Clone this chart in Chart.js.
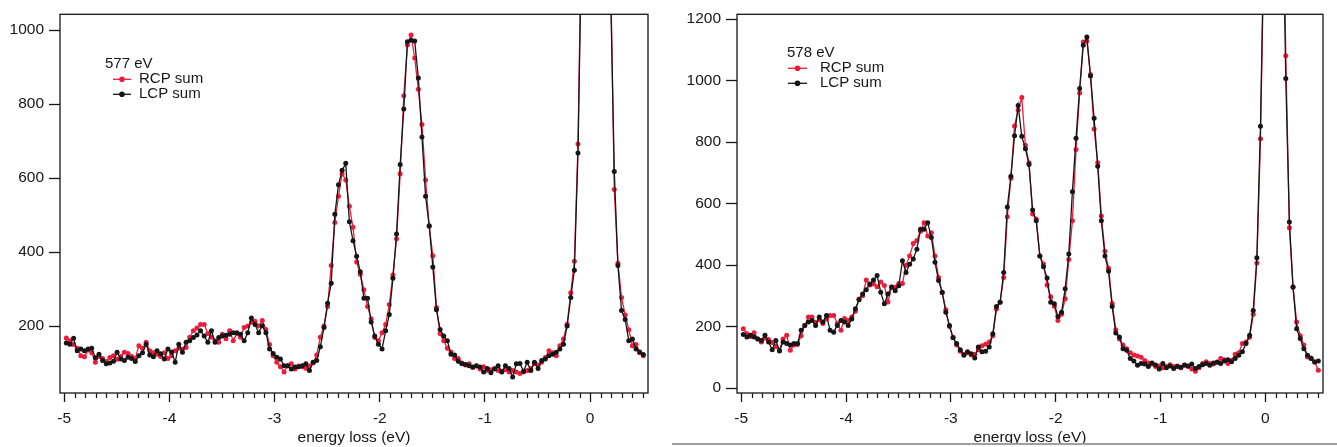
<!DOCTYPE html>
<html>
<head>
<meta charset="utf-8">
<script src="https://cdn.jsdelivr.net/npm/chart.js@4.4.1/dist/chart.umd.min.js"></script>
<style>
  body { margin: 0; background: #fff; width: 1337px; height: 447px; overflow: hidden; position: relative; }
  #left { position: absolute; left: 0; top: 0; }
  #right { position: absolute; left: 668px; top: 0; }
  #edge { position: absolute; left: 672px; top: 443px; width: 665px; border-top: 2px solid #a0a0a0; }
</style>
</head>
<body>
<canvas id="left" width="668" height="447"></canvas>
<canvas id="right" width="669" height="447"></canvas>
<div id="edge"></div>
<script>
// energy grid of the scan (eV), same for both panels
const energyStart = -4.98;
const energyStep = 0.0345;
const nPoints = 160;
const energy = [];
for (let i = 0; i < nPoints; i++) energy.push(+(energyStart + i * energyStep).toFixed(4));

const seriesNames = ['RCP sum', 'LCP sum'];
const panelTitles = ['577 eV', '578 eV'];
const xAxisTitle = 'energy loss (eV)';
const xTicks = [-5, -4, -3, -2, -1, 0];
const yTicks577 = [200, 400, 600, 800, 1000];
const yTicks578 = [0, 200, 400, 600, 800, 1000, 1200];

// 577 eV panel
const rcp577 = [
  168,160,150,140,120,117,135,128,102,118,
  112,104,115,120,110,118,129,126,118,112,
  147,140,156,133,128,124,118,128,112,120,
  133,140,138,142,170,187,195,204,204,180,
  170,160,156,178,166,187,160,180,170,196,
  200,210,213,200,215,191,150,120,102,90,
  76,93,98,84,92,90,86,92,100,122,
  170,200,253,364,480,551,612,595,524,467,
  373,340,298,253,220,169,160,182,204,258,
  338,436,612,823,960,987,925,840,745,595,
  470,390,250,180,160,140,130,112,112,100,
  95,98,88,92,84,90,80,82,85,80,
  78,82,76,80,76,72,76,80,85,98,
  95,102,115,133,128,120,147,165,205,290,
  375,692,1300,2700,5300,8100,8900,7100,4300,2200,
  1150,569,370,277,230,190,147,150,128,120
];
const lcp577 = [
  154,151,167,133,138,133,138,140,114,124,
  107,98,100,105,129,111,107,116,112,104,
  120,128,151,122,117,133,125,111,138,130,
  102,151,129,156,160,169,176,187,173,156,
  187,156,169,173,175,178,182,182,178,160,
  182,222,204,182,201,182,138,126,116,111,
  93,93,84,89,90,93,98,80,102,107,
  144,196,262,316,502,582,621,640,482,431,
  389,347,275,275,211,173,151,138,187,231,
  329,449,637,787,969,973,971,871,711,551,
  471,360,244,191,173,160,124,122,105,98,
  96,93,89,93,89,76,85,74,84,93,
  76,93,85,62,98,99,78,102,80,102,
  85,107,111,120,124,129,138,151,200,277,
  351,668,1250,2600,5200,8000,8800,7000,4200,2100,
  1100,618,364,242,218,160,165,138,130,123
];

// 578 eV panel
const rcp578 = [
  193,177,168,180,160,150,162,158,148,135,
  123,160,172,123,140,142,170,204,231,231,
  213,222,210,225,236,236,210,188,226,220,
  231,250,290,300,352,335,339,330,345,334,
  280,330,328,340,340,400,430,470,480,510,
  538,495,505,430,360,310,255,200,165,140,
  120,110,115,108,110,125,138,143,150,170,
  257,279,360,557,683,853,905,945,790,733,
  566,550,430,404,335,297,266,220,240,291,
  418,544,776,960,1126,1129,1020,843,733,560,
  445,390,275,190,160,140,128,115,108,104,
  100,90,82,78,70,72,66,70,76,70,
  72,66,74,70,62,55,66,80,86,80,
  78,85,96,92,80,90,110,115,145,150,
  165,240,407,811,1450,4400,8900,9600,6200,1800,
  1081,522,330,215,170,140,101,98,85,58
];
const lcp578 = [
  174,166,172,166,160,155,172,150,125,155,
  121,150,145,140,145,145,188,204,215,220,
  204,231,215,236,188,182,204,220,215,204,
  225,258,287,306,320,339,352,366,312,274,
  306,328,317,333,414,376,403,420,452,517,
  517,538,490,409,350,312,247,204,164,145,
  125,107,118,112,98,134,118,120,134,177,
  265,279,376,589,689,821,919,819,779,727,
  579,544,430,395,358,279,274,233,247,323,
  436,639,813,975,1115,1142,1015,878,722,544,
  430,380,265,179,166,128,123,96,88,74,
  80,78,70,82,75,62,80,66,72,64,
  70,68,75,72,78,64,70,76,80,74,
  82,84,80,88,92,86,96,107,118,145,
  172,252,424,852,1500,4500,9000,9500,6000,1700,
  1007,540,328,193,161,128,107,96,85,88
];

const RED = '#ec1c3c';
const INK = '#161616';
const FONT = '"Liberation Sans", Arial, sans-serif';

function toPoints(vals) {
  return energy.map((e, i) => ({ x: e, y: vals[i] }));
}

// box frame, minor x ticks and the little legend inside the plot
const frameAndLegend = {
  id: 'frameAndLegend',
  afterDatasetsDraw(chart, args, opts) {
    const { ctx, chartArea: a } = chart;
    const x = chart.scales.x;
    ctx.save();
    ctx.strokeStyle = INK;
    ctx.lineWidth = 1.3;
    ctx.strokeRect(a.left, a.top, a.right - a.left, a.bottom - a.top);

    ctx.lineWidth = 1.2;
    ctx.beginPath();
    for (let k = -50; k <= 5; k++) {
      if (k % 10 === 0) continue;
      const px = Math.round(x.getPixelForValue(k / 10)) + 0.5;
      ctx.moveTo(px, a.bottom);
      ctx.lineTo(px, a.bottom + 5);
    }
    ctx.stroke();

    ctx.font = '15px ' + FONT;
    ctx.textBaseline = 'middle';
    ctx.fillStyle = INK;
    ctx.fillText(opts.title, a.left + opts.dx, a.top + opts.dy);
    chart.data.datasets.forEach((ds, j) => {
      const yy = a.top + opts.dy + (j + 1) * opts.row;
      ctx.strokeStyle = ds.borderColor;
      ctx.lineWidth = 1.3;
      ctx.beginPath();
      ctx.moveTo(a.left + opts.mx0, yy);
      ctx.lineTo(a.left + opts.mx1, yy);
      ctx.stroke();
      ctx.fillStyle = ds.borderColor;
      ctx.beginPath();
      ctx.arc(a.left + (opts.mx0 + opts.mx1) / 2, yy, 2.8, 0, Math.PI * 2);
      ctx.fill();
      ctx.fillStyle = INK;
      ctx.fillText(ds.label, a.left + opts.tx, yy);
    });
    ctx.restore();
  }
};

function makePanel(id, rcp, lcp, cfg) {
  const dataset = (label, vals, color, order) => ({
    label: label,
    data: toPoints(vals),
    borderColor: color,
    backgroundColor: color,
    borderWidth: 1.3,
    pointRadius: 2.5,
    pointBorderWidth: 0,
    pointBackgroundColor: color,
    tension: 0,
    order: order
  });
  return new Chart(document.getElementById(id), {
    type: 'line',
    data: {
      datasets: [dataset(seriesNames[0], rcp, RED, 1), dataset(seriesNames[1], lcp, INK, 0)]
    },
    options: {
      responsive: false,
      animation: false,
      events: [],
      layout: { padding: { left: 0, top: cfg.top, right: cfg.right, bottom: 0 } },
      plugins: {
        legend: { display: false },
        tooltip: { enabled: false },
        frameAndLegend: cfg.legend
      },
      scales: {
        x: {
          type: 'linear',
          min: -5.04,
          max: 0.55,
          border: { display: false },
          grid: { drawOnChartArea: false, drawTicks: true, tickLength: 9, tickColor: INK, tickWidth: 1.3 },
          ticks: { color: INK, font: { family: FONT, size: 15.5 }, padding: 7, maxRotation: 0, autoSkip: false, callback: (v) => String(v) },
          afterBuildTicks: (s) => { s.ticks = xTicks.map((v) => ({ value: v })); },
          title: { display: true, text: xAxisTitle, color: INK, font: { family: FONT, size: 15.5 }, padding: { top: 0, bottom: 0 } },
          afterFit: (s) => { s.height = 54; }
        },
        y: {
          min: cfg.yMin,
          max: cfg.yMax,
          border: { display: false },
          grid: { drawOnChartArea: false, drawTicks: true, tickLength: 11, tickColor: INK, tickWidth: 1.3 },
          ticks: { color: INK, font: { family: FONT, size: 15.5 }, padding: 5, callback: (v) => String(v) },
          afterBuildTicks: (s) => { s.ticks = cfg.yTicks.map((v) => ({ value: v })); },
          afterFit: (s) => { s.width = cfg.yWidth; }
        }
      }
    },
    plugins: [frameAndLegend]
  });
}

makePanel('left', rcp577, lcp577, {
  top: 10, right: 20, yWidth: 60, yMin: 19, yMax: 1043, yTicks: yTicks577,
  legend: { title: panelTitles[0], dx: 45, dy: 50, row: 15, mx0: 53, mx1: 71, tx: 79 }
});
makePanel('right', rcp578, lcp578, {
  top: 12, right: 14, yWidth: 69, yMin: -16, yMax: 1216, yTicks: yTicks578,
  legend: { title: panelTitles[1], dx: 50, dy: 39, row: 15, mx0: 51, mx1: 70, tx: 83 }
});
</script>
</body>
</html>
